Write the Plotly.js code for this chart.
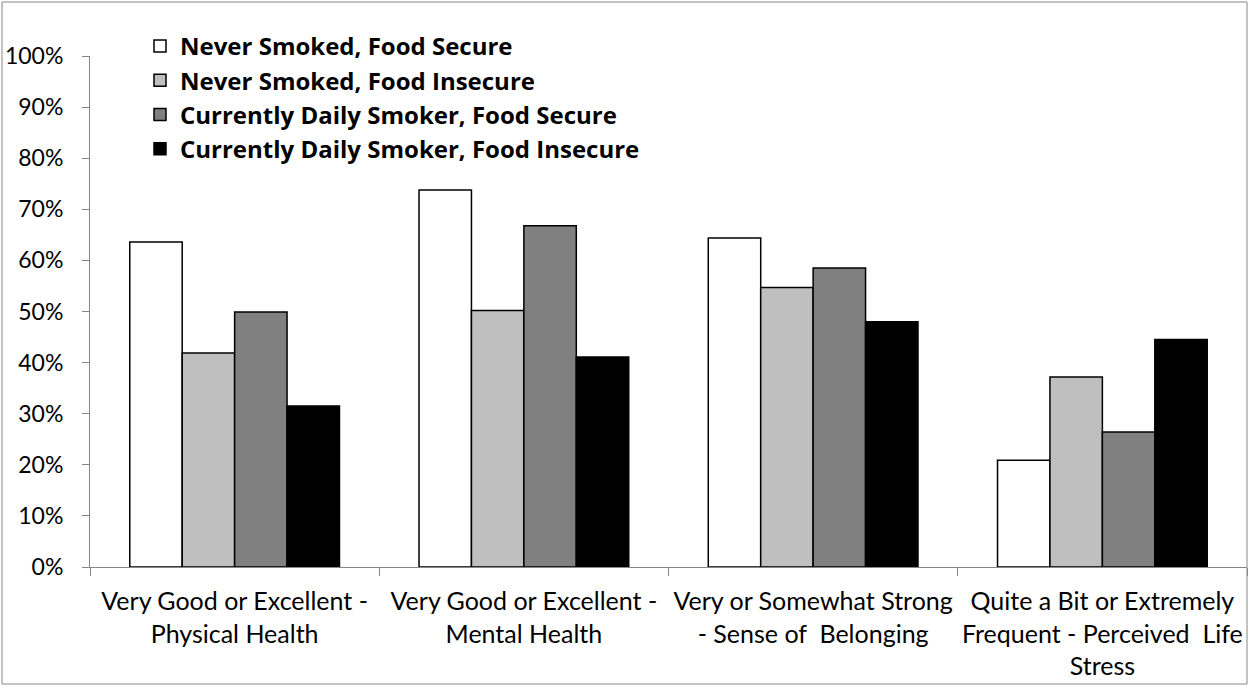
<!DOCTYPE html>
<html>
<head>
<meta charset="utf-8">
<script src="https://cdn.plot.ly/plotly-3.0.1.min.js"></script>
<style>
html,body{margin:0;padding:0;background:#fff;}
#chart{width:1249px;height:686px;}
</style>
</head>
<body>
<div id="chart"></div>
<script>
var categories = [
  "Very Good or Excellent -<br>Physical Health",
  "Very Good or Excellent -<br>Mental Health",
  "Very or Somewhat Strong<br>- Sense of  Belonging",
  "Quite a Bit or Extremely<br>Frequent - Perceived  Life<br>Stress"
];
var seriesNames = [
  "Never Smoked, Food Secure",
  "Never Smoked, Food Insecure",
  "Currently Daily Smoker, Food Secure",
  "Currently Daily Smoker, Food Insecure"
];
var neverSecure = [0.636, 0.738, 0.644, 0.209];
var neverInsecure = [0.419, 0.502, 0.547, 0.372];
var dailySecure = [0.499, 0.668, 0.585, 0.264];
var dailyInsecure = [0.315, 0.411, 0.480, 0.445];
var seriesColors = ["#FFFFFF", "#BFBFBF", "#808080", "#000000"];

var allValues = [neverSecure, neverInsecure, dailySecure, dailyInsecure];
var traces = allValues.map(function (vals, i) {
  return {
    type: "bar",
    name: seriesNames[i],
    x: categories,
    y: vals,
    marker: {color: seriesColors[i], line: {color: "#000000", width: 1.5}},
    hoverinfo: "none"
  };
});

var W = 1249, H = 686;
var mL = 90, mR = 2, mT = 56, mB = 119;
var pw = W - mL - mR, ph = H - mT - mB;

var layout = {
  width: W, height: H,
  margin: {l: mL, r: mR, t: mT, b: mB, pad: 0},
  paper_bgcolor: "#FFFFFF",
  plot_bgcolor: "#FFFFFF",
  barmode: "group",
  bargap: 0.275,
  bargroupgap: 0,
  font: {family: "Lato, 'DejaVu Sans', sans-serif", color: "#000000"},
  showlegend: true,
  legend: {
    x: (140 - mL) / pw, xanchor: "left",
    y: (mT + ph - 24) / ph, yanchor: "top",
    bgcolor: "rgba(0,0,0,0)",
    borderwidth: 0,
    font: {family: "'Open Sans', sans-serif", size: 24, weight: "bold", color: "#000000"},
    traceorder: "normal",
    itemclick: false
  },
  xaxis: {
    type: "category",
    showline: true, linecolor: "#868686", linewidth: 1,
    ticks: "outside", tickson: "boundaries", ticklen: 8, tickcolor: "#868686", tickwidth: 1,
    showgrid: false, zeroline: false,
    tickangle: 0,
    tickfont: {family: "Lato, sans-serif", size: 25, color: "#000000"},
    ticklabelstandoff: 12,
    fixedrange: true
  },
  yaxis: {
    range: [0, 1],
    dtick: 0.1, tick0: 0,
    tickformat: ".0%",
    showline: true, linecolor: "#868686", linewidth: 1,
    ticks: "outside", ticklen: 7, tickcolor: "#868686", tickwidth: 1,
    showgrid: false, zeroline: false,
    tickfont: {family: "Lato, sans-serif", size: 23, color: "#000000"},
    ticklabelstandoff: 14,
    fixedrange: true
  },
  shapes: [{
    type: "rect", xref: "paper", yref: "paper",
    x0: (2 - mL) / pw, x1: (1247 - mL) / pw,
    y0: (mT + ph - 684) / ph, y1: (mT + ph - 2) / ph,
    line: {color: "#878787", width: 1}, fillcolor: "rgba(0,0,0,0)", layer: "above"
  }]
};

Plotly.newPlot("chart", traces, layout, {staticPlot: true, displayModeBar: false});
</script>
</body>
</html>
